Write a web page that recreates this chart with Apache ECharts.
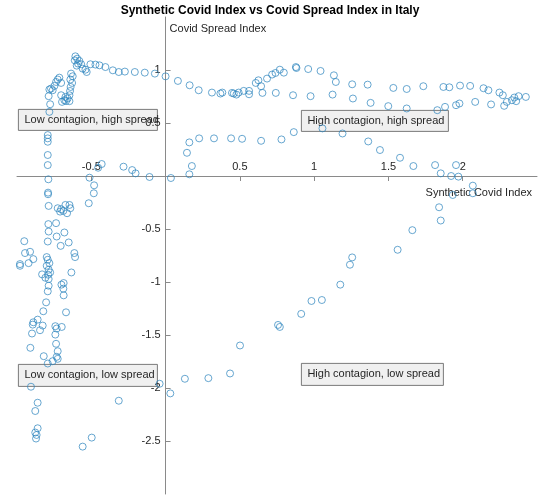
<!DOCTYPE html>
<html>
<head>
<meta charset="utf-8">
<script src="https://cdn.jsdelivr.net/npm/echarts@6/dist/echarts.min.js"></script>
<style>
  html, body {margin: 0; padding: 0; background: #fff}
  #chart {width: 540px; height: 497px}
</style>
</head>
<body>
<div id="chart"></div>
<script>
// Synthetic Covid Index (x) vs Covid Spread Index (y)
var covidIndex = [
  -0.607, -0.595, -0.611, -0.58, -0.589, -0.568, -0.598, -0.558, -0.531, -0.539, -0.506, -0.472, -0.445, -0.405, -0.355, -0.315, -0.274, -0.207, -0.14, -0.072, 0, 0.083, 0.162, 0.223,
  -0.636, -0.625, -0.641, -0.629, -0.639, -0.643, -0.647, -0.659, -0.681, -0.697, -0.67, -0.647, -0.703, -0.674,
  -0.715, -0.726, -0.703, -0.737, -0.748, -0.771, -0.782, -0.76, -0.787, -0.777, -0.782, -0.793, -0.793, -0.793, -0.793, -0.793, -0.789, -0.791, -0.791,
  -0.43, -0.454, -0.283, -0.225, -0.202, -0.108, 0.036, -0.512, -0.481, -0.483, 0.16, 0.144, 0.177, 0.16, 0.226,
  0.312, 0.369, 0.382, 0.447, 0.459, 0.477, 0.492, 0.526, 0.562, 0.562, 0.607, 0.625, 0.643, 0.652, 0.683, 0.717, 0.74, 0.769, 0.796, 0.742, 0.877, 0.881, 0.96, 1.043, 1.133, 1.146, 1.256, 1.36, 1.38, 0.858, 0.976, 1.124, 1.261,
  1.533, 1.623, 1.735, 1.87, 1.91, 1.982, 2.05, 2.14, 2.173, 2.247, 2.27, 2.297, 2.331, 2.347, 2.376, 2.425, 2.36,
  1.499, 1.623, 1.829, 1.881, 1.955, 1.978, 2.084, 2.191, 2.279,
  0.326, 0.441, 0.515, 0.643, 0.78, 0.863, 1.056, 1.191, 1.364, 1.443, 1.578, 1.668, 1.814, 1.852, 1.922, 1.971, 1.955, 2.068, 1.933, 2.068, 1.841, 1.852, 1.661, 1.562,
  1.256, 1.241, 1.176, 1.052, 0.982, 0.913, 0.757, 0.769, 0.501, 0.434, 0.288, 0.13, -0.04, 0.032,
  -0.315, -0.497, -0.558, -0.91, -0.737, -0.726, -0.733, -0.726, -0.82, -0.76, -0.793, -0.906, -0.861, -0.877, -0.861, -0.877, -0.868, -0.872,
  -0.787, -0.726, -0.703, -0.674, -0.647, -0.641, -0.71, -0.663, -0.688, -0.517,
  -0.789, -0.737, -0.787, -0.681, -0.733, -0.652, -0.793, -0.706, -0.951, -0.946, -0.912, -0.89, -0.922, -0.98, -0.98, -0.8, -0.793, -0.782, -0.8, -0.787, -0.777, -0.791, -0.831, -0.809, -0.787, -0.614, -0.609, -0.634,
  -0.787, -0.701, -0.686, -0.688, -0.793, -0.686, -0.804, -0.67, -0.823, -0.861, -0.89, -0.894, -0.827, -0.845, -0.899, -0.742, -0.733, -0.699, -0.742
]
var spreadIndex = [
  1.129, 1.107, 1.091, 1.085, 1.06, 1.054, 1.041, 1.013, 0.981, 1.003, 1.054, 1.051, 1.044, 1.028, 0.997, 0.981, 0.985, 0.981, 0.975, 0.966, 0.94, 0.897, 0.856, 0.809,
  0.966, 0.941, 0.91, 0.878, 0.84, 0.802, 0.762, 0.731, 0.715, 0.699, 0.706, 0.706, 0.762, 0.746,
  0.928, 0.91, 0.878, 0.887, 0.85, 0.825, 0.816, 0.809, 0.753, 0.677, 0.605, 0.386, 0.355, 0.323, 0.198, 0.103, -0.031, -0.157, -0.172,
  0.113, 0.078, 0.088, 0.056, 0.025, -0.009, -0.019, -0.016, -0.088, -0.163, 0.317, 0.219, 0.094, 0.016, 0.355,
  0.787, 0.778, 0.787, 0.784, 0.778, 0.768, 0.787, 0.803, 0.803, 0.771, 0.878, 0.903, 0.847, 0.784, 0.919, 0.957, 0.972, 1.003, 0.975, 0.784, 1.028, 1.019, 1.009, 0.991, 0.95, 0.887, 0.865, 0.862, 0.69, 0.762, 0.753, 0.768, 0.731,
  0.831, 0.821, 0.847, 0.84, 0.837, 0.853, 0.85, 0.828, 0.809, 0.787, 0.762, 0.699, 0.715, 0.74, 0.753, 0.746, 0.706,
  0.659, 0.637, 0.621, 0.652, 0.668, 0.684, 0.699, 0.675, 0.662,
  0.355, 0.355, 0.351, 0.332, 0.345, 0.414, 0.449, 0.401, 0.326, 0.245, 0.172, 0.094, 0.103, 0.025, 0, -0.006, 0.103, -0.091, -0.179, -0.163, -0.295, -0.42, -0.511, -0.696,
  -0.768, -0.837, -1.025, -1.17, -1.179, -1.301, -1.405, -1.424, -1.599, -1.863, -1.907, -1.913, -1.96, -2.051,
  -2.12, -2.468, -2.553, -1.621, -1.583, -1.653, -1.706, -1.725, -1.7, -1.747, -1.769, -1.988, -2.139, -2.217, -2.38, -2.42, -2.443, -2.477,
  -0.282, -0.304, -0.313, -0.273, -0.273, -0.304, -0.336, -0.351, -0.329, -0.257,
  -0.454, -0.445, -0.524, -0.533, -0.571, -0.627, -0.618, -0.659, -0.615, -0.727, -0.715, -0.784, -0.822, -0.831, -0.847, -0.765, -0.79, -0.822, -0.847, -0.884, -0.91, -0.931, -0.928, -0.96, -0.972, -0.727, -0.765, -0.91,
  -1.035, -1.025, -1.01, -1.063, -1.088, -1.126, -1.192, -1.286, -1.276, -1.355, -1.38, -1.402, -1.411, -1.455, -1.486, -1.417, -1.439, -1.424, -1.496
]
var quadrantLabels = ['Low contagion, high spread', 'High contagion, high spread', 'Low contagion, low spread', 'High contagion, low spread']

var points = covidIndex.map(function (x, i) { return [x, spreadIndex[i]] })

var xMin = -1, xMax = 2.5, yMin = -3, yMax = 1.5

var axisColor = '#8a8a8a'
var textColor = '#262626'
var font = 'Liberation Sans, Arial, sans-serif'

// grid box in px, axes cross at the origin (moved there with offset)
var W = 540, H = 497
var gridL = 17, gridR = 3, gridT = 17, gridB = 3
var plotW = W - gridL - gridR
var plotH = H - gridT - gridB
var xOffset = -plotH * (0 - yMin) / (yMax - yMin) // x axis up to y = 0
var yOffset = -plotW * (0 - xMin) / (xMax - xMin) // y axis right to x = 0

function tickLabel (v) { return v === 0 ? '' : String(v) }

// text boxes placed like the matlab annotations
var boxes = [
  {x: 18, y: 109, w: 139, h: 21},
  {x: 301, y: 110, w: 147, h: 21},
  {x: 18, y: 364, w: 139, h: 22},
  {x: 301, y: 363, w: 142, h: 22}
]

var option = {
  backgroundColor: '#fff',
  animation: false,
  title: {
    text: 'Synthetic Covid Index vs Covid Spread Index in Italy',
    left: 'center',
    top: 0,
    textStyle: {fontSize: 12, fontWeight: 'bold', color: '#000', fontFamily: font}
  },
  grid: {left: gridL, right: gridR, top: gridT, bottom: gridB, containLabel: false, outerBoundsMode: 'none'},
  xAxis: {
    type: 'value',
    min: xMin,
    max: xMax,
    interval: 0.5,
    offset: xOffset,
    name: 'Synthetic Covid Index',
    nameLocation: 'end',
    nameGap: -5,
    nameTextStyle: {color: textColor, fontSize: 11, fontFamily: font, align: 'right', verticalAlign: 'top', padding: [11, 0, 0, 0]},
    axisLine: {onZero: false, lineStyle: {color: axisColor}},
    axisTick: {inside: false, length: 5, lineStyle: {color: axisColor}},
    axisLabel: {inside: true, margin: 4, showMinLabel: false, showMaxLabel: false, color: textColor, fontSize: 11, fontFamily: font, formatter: tickLabel},
    splitLine: {show: false}
  },
  yAxis: {
    type: 'value',
    min: yMin,
    max: yMax,
    interval: 0.5,
    offset: yOffset,
    name: 'Covid Spread Index',
    nameLocation: 'end',
    nameGap: -12,
    nameTextStyle: {color: textColor, fontSize: 11, fontFamily: font, align: 'left', verticalAlign: 'middle', padding: [0, 0, 0, 4]},
    axisLine: {onZero: false, lineStyle: {color: axisColor}},
    axisTick: {inside: true, length: 5, lineStyle: {color: axisColor}},
    axisLabel: {margin: 5, showMinLabel: false, showMaxLabel: false, color: textColor, fontSize: 11, fontFamily: font, formatter: tickLabel},
    splitLine: {show: false}
  },
  series: [{
    type: 'scatter',
    data: points,
    symbol: 'circle',
    symbolSize: 7,
    itemStyle: {color: 'rgba(0,0,0,0)', borderColor: '#2c84bd', borderWidth: 0.9}
  }],
  graphic: boxes.map(function (b, i) {
    return {
      type: 'group',
      left: b.x,
      top: b.y,
      z: 100,
      children: [{
        type: 'rect',
        shape: {x: 0, y: 0, width: b.w, height: b.h},
        style: {fill: '#f0f0f0', stroke: '#5a5a5a', lineWidth: 0.8}
      }, {
        type: 'text',
        x: 6,
        y: b.h / 2,
        style: {text: quadrantLabels[i], fill: textColor, font: '11px ' + font, verticalAlign: 'middle'}
      }]
    }
  })
}

var chart = echarts.init(document.getElementById('chart'))
chart.setOption(option)
</script>
</body>
</html>
